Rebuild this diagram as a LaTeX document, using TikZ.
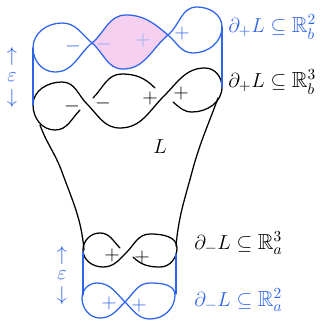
\documentclass[tikz,border=0pt]{standalone}
\usepackage{amssymb}
\definecolor{handblue}{RGB}{45,100,235}
\definecolor{lobepink}{RGB}{245,208,240}
\begin{document}
\begin{tikzpicture}[x=0.025cm, y=0.025cm,
  ink/.style={line width=0.9pt, line cap=round},
  bluek/.style={ink, handblue},
  sign/.style={font=\Large, inner sep=0pt},
  gap/.style={font=\Large, handblue, inner sep=0pt},
  tag/.style={font=\fontsize{15.5}{18}\selectfont, anchor=west, inner sep=0pt}]
\useasboundingbox (0,0) rectangle (326,322);

% upper boundary in R^2_b (blue)
\fill[lobepink] (92,279) to[out=40,in=180] (126,307) to[out=0,in=140] (168,287)
  to[out=-140,in=0] (123,253) to[out=180,in=-40] (92,279) -- cycle;
\draw[bluek] (92,279) to[out=40,in=180] (126,307) to[out=0,in=140] (168,287)
  to[out=-40,in=180] (193,269) to[out=0,in=-90] (222,295) to[out=90,in=0] (197,315)
  to[out=180,in=40] (168,287) to[out=-140,in=0] (123,253) to[out=180,in=-40] (92,279)
  to[out=140,in=0] (62,299) to[out=180,in=90] (33,274) to[out=-90,in=180] (55,250)
  to[out=0,in=-140] (92,279);

% upper boundary in R^3_b (black)
\draw[ink] (173,220) to[out=-40,in=180] (192,210) to[out=0,in=-90] (222,235)
  to[out=90,in=0] (205,254) to[out=180,in=45] (164,226) to[out=-135,in=0] (120,194)
  to[out=180,in=-45] (87,218) to[out=135,in=0] (62,240) to[out=180,in=90] (33,217)
  to[out=-90,in=180] (55,192) to[out=0,in=-135] (80,212);
\draw[ink] (93,224) to[out=45,in=180] (122,248) to[out=0,in=135] (155,234);

% the cobordism L
\coordinate (ltop) at (40,197);
\coordinate (rtop) at (218,224);
\coordinate (lbot) at (84,72);
\coordinate (rbot) at (176,76);
\draw[ink] (ltop) to[out=-70,in=110] (62,150) to[out=-70,in=95] (lbot);
\draw[ink] (rtop) to[out=-110,in=75] (192,150) to[out=-105,in=85] (rbot);
\node[font=\Large] (L) at (160,175) {$L$};

% lower boundary in R^3_a (black)
\draw[ink] (133,65) to[out=-45,in=180] (160,55) to[out=0,in=-90] (177,74)
  to[out=90,in=0] (150,88) to[out=180,in=45] (126,69) to[out=-135,in=0] (103,55)
  to[out=180,in=-90] (83,72) to[out=90,in=180] (100,89) to[out=0,in=135] (120,74);

% lower boundary in R^2_a (blue)
\draw[bluek] (125,20) to[out=45,in=180] (150,39) to[out=0,in=90] (175,27)
  to[out=-90,in=0] (150,3) to[out=180,in=-45] (125,20) to[out=135,in=0] (97,39)
  to[out=180,in=90] (82,24) to[out=-90,in=180] (100,4) to[out=0,in=-135] (125,20);

% vertical projections
\draw[bluek] (33,274) -- (33,217);
\draw[bluek] (222,295) -- (222,235);
\draw[bluek] (83,70) -- (83,27);
\draw[bluek] (176,68) -- (176,28);

% signs of the crossings
\node[sign, handblue] (m1) at (73,276) {$-$};
\node[sign, handblue!55!white] (m2) at (104,278) {$-$};
\node[sign, handblue!55!white] (p1) at (143,282) {$+$};
\node[sign, handblue] (p2) at (182,289) {$+$};
\node[sign] (m3) at (72,216) {$-$};
\node[sign] (m4) at (103,219) {$-$};
\node[sign] (p3) at (150,224) {$+$};
\node[sign] (p4) at (181,229) {$+$};
\node[sign] (p5) at (112,67) {$+$};
\node[sign] (p6) at (142,65) {$+$};
\node[sign, handblue] (p7) at (109,19) {$+$};
\node[sign, handblue] (p8) at (139,17) {$+$};

% epsilon gaps
\node[gap] (epsupA) at (12,266) {$\uparrow$};
\node[gap] (epsA) at (12,245) {$\varepsilon$};
\node[gap] (epsdownA) at (12,224) {$\downarrow$};
\node[gap] (epsupB) at (62,67) {$\uparrow$};
\node[gap] (epsB) at (62,47) {$\varepsilon$};
\node[gap] (epsdownB) at (62,27) {$\downarrow$};

% labels
\node[tag, handblue] (topblue) at (228,295) {$\partial_+L\subseteq\mathbb{R}^2_b$};
\node[tag] (topblack) at (228,240) {$\partial_+L\subseteq\mathbb{R}^3_b$};
\node[tag] (botblack) at (194,79) {$\partial_-L\subseteq\mathbb{R}^3_a$};
\node[tag, handblue] (botblue) at (194,22) {$\partial_-L\subseteq\mathbb{R}^2_a$};
\end{tikzpicture}
\end{document}
